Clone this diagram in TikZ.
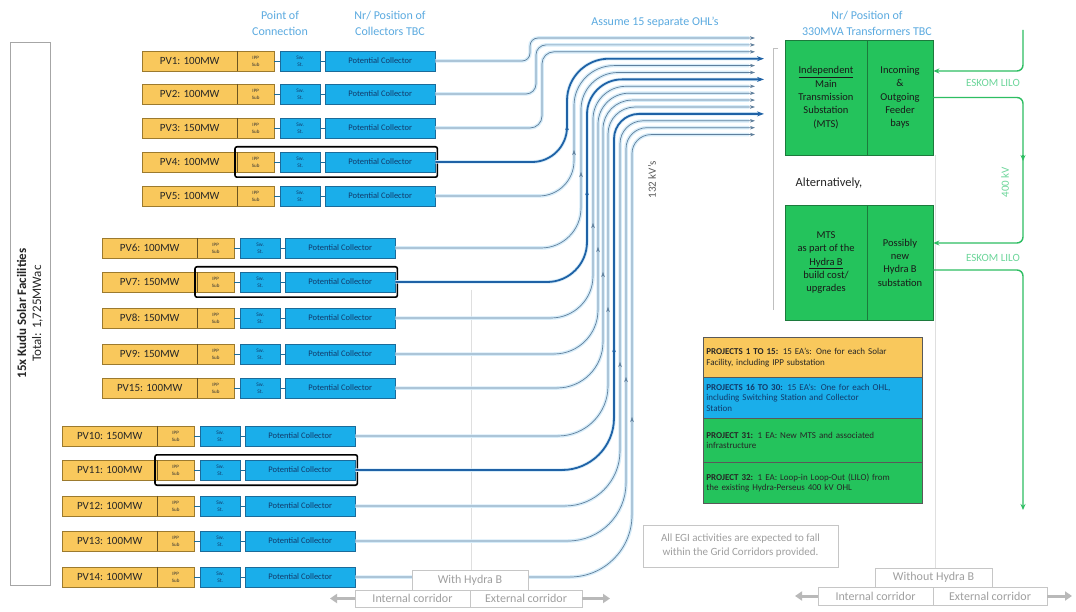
\documentclass[tikz,border=0pt]{standalone}
\usepackage{fontspec}
\setmainfont{Carlito}
\usetikzlibrary{arrows.meta}
\definecolor{yfill}{HTML}{F9C85C}
\definecolor{ybord}{HTML}{9C7A2E}
\definecolor{bfill}{HTML}{1AAEEA}
\definecolor{bbord}{HTML}{1B6B9A}
\definecolor{gfill}{HTML}{24C35C}
\definecolor{gbord}{HTML}{1C7A3C}
\definecolor{hdrc}{HTML}{5BAAE0}
\definecolor{lgreen}{HTML}{6CD69A}
\definecolor{gline}{HTML}{2EBE62}
\definecolor{cline}{HTML}{5F7F9C}
\definecolor{cthick}{HTML}{1F62A6}
\definecolor{halo}{HTML}{D6ECF9}
\definecolor{navy}{HTML}{123A6A}

\newcommand{\pvrow}[4]{%
  \node[pvlab] (pv#1) at (142-#2,#3) {#4};
  \node[ipp] (ipp#1) at (237-#2,#3) {IPP\\Sub};
  \draw[ybord!70!black, line width=1pt] (ipp#1.north west) -- (ipp#1.south west);
  \node[swbox] (sw#1) at (280-#2,#3) {Sw.\\St.};
  \node[pcbox] (pc#1) at (325-#2,#3) {Potential Collector};
  \draw[link] (ipp#1) -- (sw#1);
  \draw[link] (sw#1) -- (pc#1);
}
\newcommand{\hlrow}[1]{\draw[hl] ([xshift=-2pt,yshift=5pt]ipp#1.north west) rectangle ([xshift=2pt,yshift=-5pt]pc#1.south east);}
\newcommand{\coll}[8]{%
  \draw[halo, line width=3.5pt] (pc#1.east) [rounded corners=#5pt] -- (#3,#2) [rounded corners=#6pt] -- (#3,#4) -- (#8-6,#4);
  \draw[#7] (pc#1.east) [rounded corners=#5pt] -- (#3,#2) [rounded corners=#6pt] -- (#3,#4) -- (#8,#4);
}
\newcommand{\marr}[3]{\draw[#3, -{Stealth[length=5pt,width=3.5pt]}] (#1,#2+3) -- (#1,#2);}

\begin{document}
\begin{tikzpicture}[x=1pt,y=-1pt,
  pvlab/.style={draw=ybord, fill=yfill, minimum width=95, minimum height=20, inner sep=0, anchor=west, font=\fontsize{11}{12}\selectfont, text=black!85},
  ipp/.style={draw=ybord, fill=yfill, minimum width=37, minimum height=20, inner sep=0, anchor=west, align=center, font=\fontsize{5}{7}\selectfont, text=black!80},
  swbox/.style={draw=bbord, fill=bfill, minimum width=40, minimum height=20, inner sep=0, anchor=west, align=center, font=\fontsize{5.5}{7}\selectfont, text=navy},
  pcbox/.style={draw=bbord, fill=bfill, minimum width=110, minimum height=20, inner sep=0, anchor=west, font=\fontsize{8.5}{9}\selectfont, text=navy},
  link/.style={draw=bbord, line width=0.6pt},
  hl/.style={draw=black, line width=1.6pt, rounded corners=2pt},
  cthin/.style={draw=cline, line width=0.7pt, -{Stealth[length=5pt,width=3.5pt]}},
  cthk/.style={draw=cthick, line width=1.8pt, -{Stealth[length=7pt,width=5pt]}},
  hdr/.style={text=hdrc, align=center, font=\fontsize{12}{16}\selectfont},
  corr/.style={draw=gray!25, line width=0.6pt},
  gbox/.style={draw=gbord, fill=gfill, line width=0.8pt, align=center, inner sep=1pt, font=\fontsize{10.5}{13.3}\selectfont, text=black!90},
  gl/.style={draw=gline, line width=1.4pt, rounded corners=6pt},
  glab/.style={text=lgreen, font=\fontsize{11}{12}\selectfont},
  leg/.style={draw=black!65, line width=0.7pt, anchor=north west, minimum width=219, text width=213, align=left, inner xsep=3pt, font=\fontsize{9}{10.5}\selectfont, text=black!85},
  gtxt/.style={text=gray!75, font=\fontsize{12}{13}\selectfont},
  gframe/.style={draw=gray!45, line width=0.7pt, fill=white, inner sep=0pt},
  garr/.style={draw=gray!55, line width=3pt, -{Triangle[length=7pt,width=9pt]}}
]
\useasboundingbox (0,0) rectangle (1076,612);
\fill[white] (0,0) rectangle (1076,612);

% faint corridor dividers
\draw[corr] (471,290) -- (471,590);
\draw[corr] (935,155) -- (935,587);

% left facility box
\node[draw=gray!70, line width=0.8pt, rotate=90, minimum width=543, minimum height=40, inner sep=0pt, align=center, font=\fontsize{13}{15}\selectfont, text=black!85] (kudu) at (30,313.5) {\textbf{15x Kudu Solar Facilities}\\Total: 1,725MWac};

% headers
\node[hdr] (h1) at (280,23) {Point of\\Connection};
\node[hdr] (h2) at (390,23) {Nr/ Position of\\Collectors TBC};
\node[hdr] (h3) at (655,22) {Assume 15 separate OHL's};
\node[hdr] (h4) at (867,23) {Nr/ Position of\\330MVA Transformers TBC};

% PV rows
\pvrow{1}{0}{61}{PV1: 100MW}
\pvrow{2}{0}{94}{PV2: 100MW}
\pvrow{3}{0}{128}{PV3: 150MW}
\pvrow{4}{0}{162}{PV4: 100MW}
\pvrow{5}{0}{196}{PV5: 100MW}
\pvrow{6}{40}{248}{PV6: 100MW}
\pvrow{7}{40}{282}{PV7: 150MW}
\pvrow{8}{40}{318}{PV8: 150MW}
\pvrow{9}{40}{354}{PV9: 150MW}
\pvrow{15}{40}{388}{PV15: 100MW}
\pvrow{10}{80}{436}{PV10: 150MW}
\pvrow{11}{80}{470}{PV11: 100MW}
\pvrow{12}{80}{506}{PV12: 100MW}
\pvrow{13}{80}{541}{PV13: 100MW}
\pvrow{14}{80}{577}{PV14: 100MW}
\hlrow{4}
\hlrow{7}
\hlrow{11}

% collector lines (OHLs)
\coll{1}{61}{530}{38}{8}{8}{cthin}{755}
\coll{2}{94}{536}{44.9}{10}{10}{cthin}{755}
\coll{3}{128}{542}{51.8}{12}{12}{cthin}{755}
\coll{4}{162}{567}{58.7}{35}{42}{cthk}{764}
\coll{5}{196}{574}{65.6}{35}{40}{cthin}{755}
\coll{6}{248}{581}{72.5}{40}{37}{cthin}{755}
\coll{7}{282}{587}{79.4}{40}{35}{cthk}{764}
\coll{8}{318}{593}{86.3}{42}{33}{cthin}{755}
\coll{9}{354}{598}{93.2}{44}{31}{cthin}{755}
\coll{15}{388}{603}{100.1}{46}{29}{cthin}{755}
\coll{10}{436}{608}{107}{50}{27}{cthin}{755}
\coll{11}{470}{614}{113.9}{52}{25}{cthk}{764}
\coll{12}{506}{620}{120.8}{55}{23}{cthin}{755}
\coll{13}{541}{626}{127.7}{58}{21}{cthin}{755}
\coll{14}{577}{632}{134.6}{62}{19}{cthin}{755}

% arrow marks on verticals
\marr{567}{125}{cthick}
\marr{574}{150}{cline}
\marr{581}{172}{cline}
\marr{587}{190}{cthick}
\marr{593}{223}{cline}
\marr{598}{247}{cline}
\marr{603}{272}{cline}
\marr{608}{307}{cline}
\marr{614}{347}{cthick}
\marr{620}{362}{cline}
\marr{626}{377}{cline}
\marr{632}{417}{cline}

\node[text=gray!70!black, rotate=90, font=\fontsize{11}{12}\selectfont] (kv132) at (652,180) {132 kV's};

% bracket in front of substations
\draw[gray!50, line width=0.8pt] (778,48) -- (773,48) -- (773,310);

% substations
\node[gbox, minimum width=82, minimum height=115] (mts1) at (826,97.5) {\underline{Independent}\\Main\\Transmission\\Substation\\(MTS)};
\node[gbox, minimum width=66, minimum height=115] (fb1) at (900,97.5) {Incoming\\\&\\Outgoing\\Feeder\\bays};
\node[text=black!85, font=\fontsize{12.5}{14}\selectfont] (alt) at (829,183) {Alternatively,};
\node[gbox, minimum width=82, minimum height=115] (mts2) at (826,262.5) {MTS\\as part of the\\\underline{Hydra B}\\build cost/\\upgrades};
\node[gbox, minimum width=66, minimum height=115] (nb) at (900,262.5) {Possibly\\new\\Hydra B\\substation};

% Eskom LILO
\coordinate (e0) at (1023,30);
\coordinate (e1) at (1023,97.5);
\coordinate (e2) at (1023,270);
\coordinate (e3) at (1023,510);
\draw[gl, -{Stealth[length=6pt,width=5pt]}] (e0) |- ([yshift=26.5pt]fb1.east);
\draw[gl, -{Stealth[length=6pt,width=5pt]}] (fb1.east) -- (e1) |- ([yshift=19.5pt]nb.east);
\draw[gline, line width=1.4pt, -{Stealth[length=6pt,width=5pt]}] (1023,155) -- (1023,161);
\draw[gl, -{Stealth[length=6pt,width=5pt]}] ([yshift=-7.5pt]nb.east) -- (e2) -- (e3);
\node[glab] (lilo1) at (993,83) {ESKOM LILO};
\node[glab] (lilo2) at (993,258) {ESKOM LILO};
\node[glab, rotate=90] (kv400) at (1005,182) {400 kV};

% legend
\node[leg, fill=yfill, minimum height=40] (l1) at (703,337) {\textbf{PROJECTS 1 TO 15:} 15 EA's: One for each Solar\\Facility, including IPP substation};
\node[leg, fill=bfill, minimum height=41, text=navy] (l2) at (703,377) {\textbf{PROJECTS 16 TO 30:} 15 EA's: One for each OHL,\\including Switching Station and Collector\\Station};
\node[leg, fill=gfill, minimum height=44] (l3) at (703,418) {\textbf{PROJECT 31:} 1 EA: New MTS and associated\\infrastructure};
\node[leg, fill=gfill, minimum height=41] (l4) at (703,462) {\textbf{PROJECT 32:} 1 EA: Loop-in Loop-Out (LILO) from\\the existing Hydra-Perseus 400 kV OHL};

% note
\node[gframe, minimum width=195, minimum height=42, align=center, text=gray!75, font=\fontsize{11}{14}\selectfont] (note) at (740.5,546) {All EGI activities are expected to fall\\within the Grid Corridors provided.};

% corridors with Hydra B
\node[gframe, minimum width=116, minimum height=20, gtxt] (wh) at (470,580) {With Hydra B};
\node[gframe, minimum width=115, minimum height=17, gtxt] (ic1) at (412.5,598.5) {Internal corridor};
\node[gframe, minimum width=112, minimum height=17, gtxt] (ec1) at (526,598.5) {External corridor};
\coordinate (la) at (330,598.5);
\coordinate (ra) at (610,598.5);
\draw[garr] (ic1.west) -- (la);
\draw[garr] (ec1.east) -- (ra);

% corridors without Hydra B
\node[gframe, minimum width=117, minimum height=19, gtxt] (woh) at (933.5,577.5) {Without Hydra B};
\node[gframe, minimum width=115, minimum height=18, gtxt] (ic2) at (875.5,596) {Internal corridor};
\node[gframe, minimum width=114, minimum height=18, gtxt] (ec2) at (990,596) {External corridor};
\coordinate (lb) at (795,596);
\coordinate (rb) at (1072,596);
\draw[garr] (ic2.west) -- (lb);
\draw[garr] (ec2.east) -- (rb);
\end{tikzpicture}
\end{document}
